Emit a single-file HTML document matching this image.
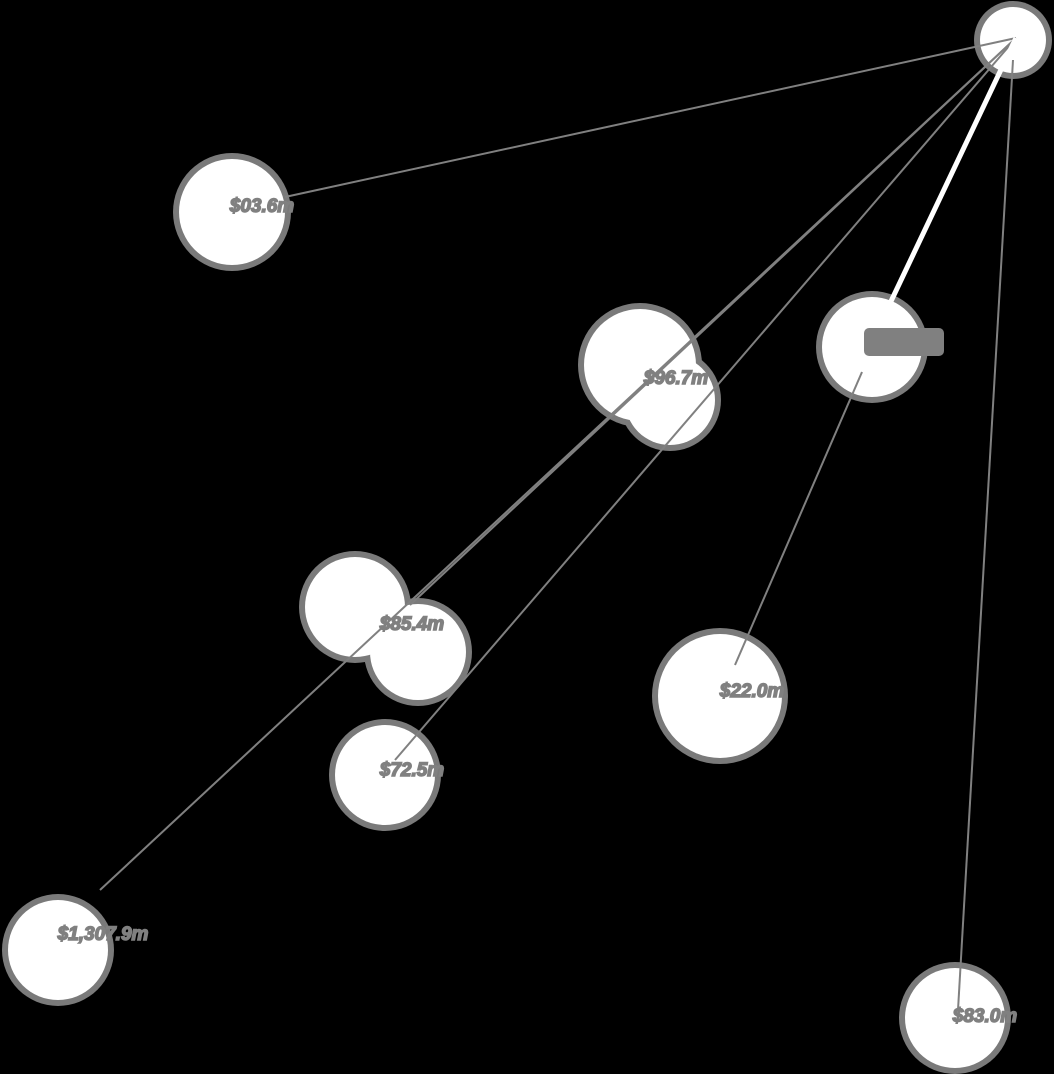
<!DOCTYPE html>
<html><head><meta charset="utf-8"><style>
html,body{margin:0;padding:0;background:#000;}
svg{display:block}
text{font-family:"Liberation Sans",sans-serif;font-style:italic;font-weight:bold;fill:#808080;stroke:#808080;stroke-width:1.5px;font-size:19px}
</style></head><body>
<svg id="chart" width="1054" height="1074" viewBox="0 0 1054 1074"></svg>
<script>
const nodeNames=["hub","n1","n2","n2b","n3","n4","n4b","n5","n6","n7","n8"];
const nodeX=[1013,232,640,670,872,355,418,720,385,58,955];
const nodeY=[40,212,365,400,347,607,652,696,775,950,1018];
const nodeR=[33,53,56,45,50,50,48,62,50,50,50];
const labels=["","$03.6m","$96.7m","","","$85.4m","","$22.0m","$72.5m","$1,307.9m","$83.0m"];
const labelX=[0,262,676,0,0,412,0,752,412,103,985];
const labelY=[0,212,384,0,0,630,0,697,776,940,1022];
const linkFromX=[1016,1016,1016,1016,1016,862,1013];
const linkFromY=[38,38,38,38,38,372,60];
const linkToX=[285,100,410,395,875,735,958];
const linkToY=[197,890,605,760,335,665,1010];
const linkW=[2,2,2,2,5,2,2];
const linkC=["#808080","#808080","#808080","#808080","#ffffff","#808080","#808080"];
const svg=document.getElementById('chart');
const NS='http://www.w3.org/2000/svg';
for(let i=0;i<nodeNames.length;i++){
  const c=document.createElementNS(NS,'circle');
  
  
  c.setAttribute('cx',nodeX[i]);c.setAttribute('cy',nodeY[i]);c.setAttribute('r',nodeR[i]+6);
  c.setAttribute('fill','#7a7a7a');svg.appendChild(c);
}
for(let i=0;i<nodeNames.length;i++){
  const c=document.createElementNS(NS,'circle');
  
  
  c.setAttribute('cx',nodeX[i]);c.setAttribute('cy',nodeY[i]);c.setAttribute('r',nodeR[i]);
  c.setAttribute('fill','#fff');svg.appendChild(c);
}
for(let i=0;i<linkToX.length;i++){
  const l=document.createElementNS(NS,'line');
  
  
  l.setAttribute('x1',linkFromX[i]);l.setAttribute('y1',linkFromY[i]);
  l.setAttribute('x2',linkToX[i]);l.setAttribute('y2',linkToY[i]);
  l.setAttribute('stroke',linkC[i]);l.setAttribute('stroke-width',linkW[i]);
  svg.appendChild(l);
}
const box=document.createElementNS(NS,'rect');


box.setAttribute('x',864);box.setAttribute('y',328);box.setAttribute('width',80);box.setAttribute('height',28);
box.setAttribute('rx',5);box.setAttribute('fill','#808080');svg.appendChild(box);
for(let i=0;i<labels.length;i++){
  if(!labels[i])continue;
  const t=document.createElementNS(NS,'text');
  
  
  t.setAttribute('x',labelX[i]);t.setAttribute('y',labelY[i]);
  t.setAttribute('text-anchor','middle');
  t.textContent=labels[i];svg.appendChild(t);
}
</script>
</body></html>
